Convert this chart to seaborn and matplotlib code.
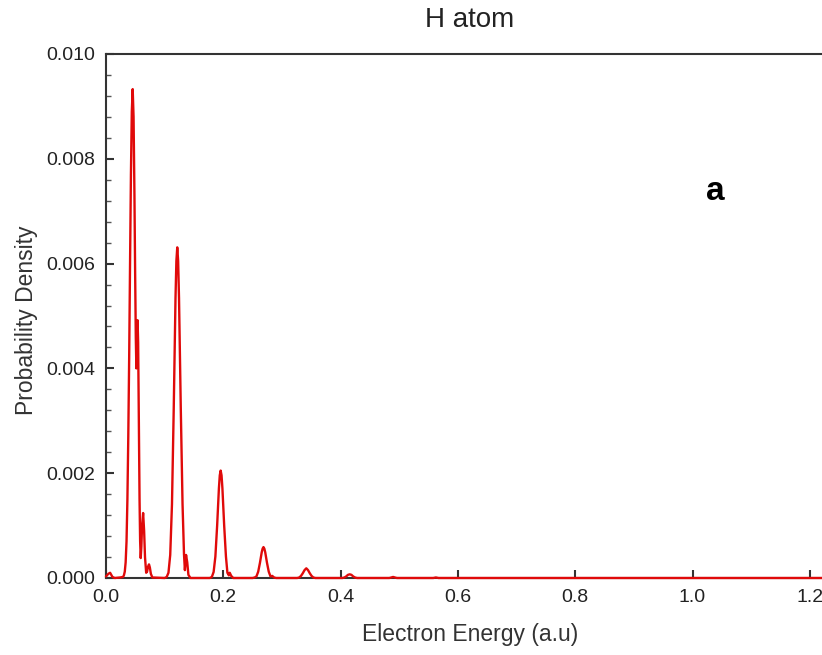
import matplotlib
matplotlib.use("Agg")
import matplotlib.pyplot as plt
import seaborn as sns
import pandas as pd
from matplotlib.ticker import MultipleLocator

# ---- data ----
energy = [
    0.000, 0.004, 0.007, 0.011, 0.015, 0.024, 0.0290, 0.0305, 0.0320, 0.0335,
    0.0350, 0.0365, 0.0380, 0.0395, 0.0410, 0.0425, 0.0440, 0.0455, 0.0470, 0.0485,
    0.0497, 0.0508, 0.0518, 0.0528, 0.0538, 0.0548, 0.0560, 0.0572, 0.0582, 0.0592,
    0.0603, 0.0615, 0.0633, 0.0650, 0.0665, 0.0685, 0.0700, 0.0718, 0.0733, 0.0748,
    0.0765, 0.0790, 0.1000, 0.1035, 0.1065, 0.1095, 0.1125, 0.1155, 0.1185, 0.1200,
    0.1215, 0.1230, 0.1245, 0.1275, 0.1305, 0.1330, 0.1345, 0.1365, 0.1385, 0.1405,
    0.1440, 0.1770, 0.1805, 0.1835, 0.1865, 0.1895, 0.1925, 0.1940, 0.1955, 0.1970,
    0.1985, 0.2015, 0.2045, 0.2070, 0.2095, 0.2110, 0.2135, 0.2170, 0.2500, 0.2535,
    0.2565, 0.2595, 0.2625, 0.2655, 0.2670, 0.2685, 0.2700, 0.2715, 0.2745, 0.2775,
    0.2805, 0.2835, 0.2865, 0.2900, 0.3260, 0.3295, 0.3325, 0.3355, 0.3385, 0.3415,
    0.3445, 0.3475, 0.3505, 0.3535, 0.3570, 0.4030, 0.4065, 0.4095, 0.4125, 0.4155,
    0.4185, 0.4215, 0.4245, 0.4280, 0.4830, 0.4865, 0.4895, 0.4925, 0.4960, 0.5580,
    0.5625, 0.5670, 1.2500,
]
density = [
    0.00003, 0.00008, 0.00010, 0.00002, 0.0, 0.00001, 0.00002, 0.00005, 0.00012, 0.00030,
    0.00070, 0.00150, 0.00270, 0.00420, 0.00600, 0.00770, 0.00890, 0.00933, 0.00880, 0.00730,
    0.00580, 0.00460, 0.00400, 0.00450, 0.00492, 0.00450, 0.00300, 0.00150, 0.00070, 0.00038,
    0.00060, 0.00100, 0.00124, 0.00090, 0.00040, 0.00010, 0.00012, 0.00022, 0.00026, 0.00020,
    0.00008, 0.00001, 0.0, 0.00002, 0.00010, 0.00044, 0.00141, 0.00324, 0.00534, 0.00605,
    0.00631, 0.00605, 0.00534, 0.00324, 0.00141, 0.00045, 0.00015, 0.00044, 0.00030, 0.00006,
    0.0, 0.0, 0.00002, 0.000115, 0.00041, 0.00100, 0.00171, 0.00196, 0.00205, 0.00196,
    0.00171, 0.00100, 0.00041, 0.00010, 0.00005, 0.00010, 0.00004, 0.0, 0.0, 0.00001,
    0.00003, 0.00012, 0.00029, 0.00049, 0.00056, 0.00059, 0.00056, 0.00049, 0.00029, 0.00012,
    0.00003, 0.00004, 0.00001, 0.0, 0.0, 0.00001, 0.00004, 0.00009, 0.00015, 0.000185,
    0.00015, 0.00009, 0.00004, 0.00001, 0.0, 0.0, 0.00001, 0.00003, 0.00006, 0.00007,
    0.00006, 0.00003, 0.00001, 0.0, 0.0, 0.00001, 0.00002, 0.00001, 0.0, 0.0,
    0.00001, 0.0, 0.0,
]
x_ticks = [0.0, 0.2, 0.4, 0.6, 0.8, 1.0, 1.2]
x_tick_labels = ["0.0", "0.2", "0.4", "0.6", "0.8", "1.0", "1.2"]
y_ticks = [0.000, 0.002, 0.004, 0.006, 0.008, 0.010]
y_tick_labels = ["0.000", "0.002", "0.004", "0.006", "0.008", "0.010"]

df = pd.DataFrame({"Electron Energy (a.u)": energy, "Probability Density": density})

sns.set_theme(style="ticks")
plt.rcParams["font.family"] = ["Liberation Sans", "DejaVu Sans"]

fig = plt.figure(figsize=(8.22, 6.55), dpi=100)
ax = fig.add_axes([106 / 822, 1 - 578 / 655, 1 - 106 / 822, (578 - 54) / 655])

sns.lineplot(data=df, x="Electron Energy (a.u)", y="Probability Density", ax=ax,
             color="#e00a0a", linewidth=1.7, clip_on=False, zorder=5,
             estimator=None, sort=False)

ax.set_xlim(0, (822 - 106) / 586.5)
ax.set_ylim(0, 0.010)
ax.set_xticks(x_ticks)
ax.set_xticklabels(x_tick_labels)
ax.set_yticks(y_ticks)
ax.set_yticklabels(y_tick_labels)
ax.yaxis.set_minor_locator(MultipleLocator(0.0004))

ax.tick_params(axis="both", which="major", direction="in", length=6, width=1.5,
               color="#333333", labelsize=14, labelcolor="#222222")
ax.tick_params(axis="x", which="major", pad=8)
ax.tick_params(axis="y", which="major", pad=8)
ax.tick_params(axis="y", which="minor", direction="in", length=3.5, width=1.0,
               color="#555555")

for side in ["left", "bottom", "top"]:
    ax.spines[side].set_visible(True)
    ax.spines[side].set_linewidth(1.5)
    ax.spines[side].set_color("#333333")
ax.spines["right"].set_visible(False)

ax.set_xlabel("")
ax.set_ylabel("")
fig.text(470 / 822, 1 - 634 / 655, "Electron Energy (a.u)", ha="center", va="center",
         fontsize=16.5, color="#333333")
fig.text(27 / 822, 1 - 320 / 655, "Probability Density", ha="center", va="center",
         rotation=90, fontsize=16.5, color="#333333")
fig.text(470 / 822, 1 - 20 / 655, "H atom", ha="center", va="center",
         fontsize=20, color="#222222")
fig.text(715 / 822, 1 - 192 / 655, "a", ha="center", va="center",
         fontsize=24, fontweight="heavy", color="black")

fig.savefig("out.png", dpi=100, facecolor="white")
